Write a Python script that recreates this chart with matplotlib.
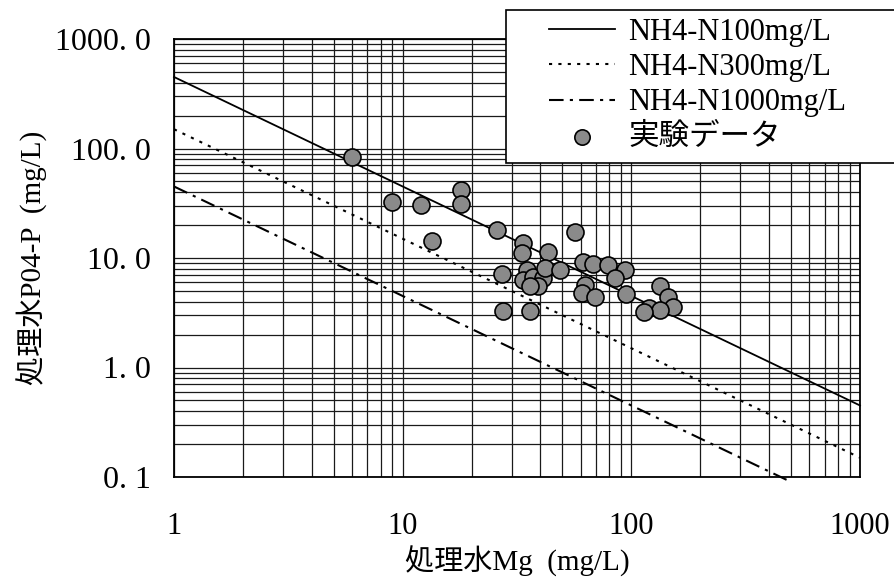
import numpy as np
import matplotlib
matplotlib.use("Agg")
import matplotlib.pyplot as plt
from matplotlib.patches import Rectangle
from matplotlib.ticker import FixedLocator, LogLocator, NullFormatter

plt.rcParams['font.family'] = ['Liberation Serif', 'Noto Sans CJK JP', 'DejaVu Sans']

# ---------------- data ----------------
mg = [6.0, 9.0, 12.0, 18.0, 18.0, 13.5, 25.8, 27.3, 27.5, 33.5, 33.2, 43.3,
      34.8, 33.7, 37.3, 41.2, 41.9, 39.0, 36.0, 36.2, 48.7, 56.6,
      61.6, 68.2, 79.3, 93.7, 84.8, 62.7, 60.6, 69.3, 94.3,
      133, 145, 152, 119, 133, 114]
po4 = [84, 32.7, 30.3, 41.8, 31.1, 14.4, 18.0, 7.1, 3.3, 13.6, 11.2, 11.4,
       7.8, 6.3, 6.75, 6.5, 8.1, 5.6, 5.5, 3.3, 7.8, 17.4,
       9.25, 8.9, 8.6, 7.8, 6.5, 5.7, 4.8, 4.4, 4.7,
       5.5, 4.4, 3.6, 3.5, 3.35, 3.2]

# theoretical lines (end points)
line100_x = [1, 1000]
line100_y = [450, 0.45]
line300_x = [1, 1000]
line300_y = [150, 0.15]
line1000_x = [1, 500]
line1000_y = [45, 0.09]

labels = ["NH4-N100mg/L", "NH4-N300mg/L", "NH4-N1000mg/L", "実験データ"]
xticks = [1, 10, 100, 1000]
xtick_labels = ["1", "10", "100", "1000"]
yticks = [0.1, 1, 10, 100, 1000]
ytick_labels = ["0. 1", "1. 0", "10. 0", "100. 0", "1000. 0"]

# ---------------- figure ----------------
fig = plt.figure(figsize=(8.95, 5.88), dpi=100)
ax = fig.add_axes([174/895, 1 - 477/588, (860 - 174)/895, (477 - 39)/588])
ax.set_xscale('log')
ax.set_yscale('log')
ax.set_xlim(1, 1000)
ax.set_ylim(0.1, 1000)

l1, = ax.plot(line100_x, line100_y, color='black', lw=1.3, clip_on=False)
l2, = ax.plot(line300_x, line300_y, color='black', lw=1.5,
              linestyle=(0, (1.5, 3)), clip_on=False)
l3, = ax.plot(line1000_x, line1000_y, color='black', lw=1.5,
              linestyle=(0, (7, 3, 1.5, 3)), clip_on=False)
sc = ax.scatter(mg, po4, s=150, facecolor='#8a8a8a', edgecolor='black',
                linewidth=1.2, zorder=3)

# grid
ax.xaxis.set_minor_locator(LogLocator(base=10, subs=np.arange(2, 10)))
ax.yaxis.set_minor_locator(LogLocator(base=10, subs=np.arange(2, 10)))
ax.xaxis.set_minor_formatter(NullFormatter())
ax.yaxis.set_minor_formatter(NullFormatter())
ax.grid(True, which='both', color='#1a1a1a', lw=0.9)
ax.set_axisbelow(True)
for s in ax.spines.values():
    s.set_linewidth(1.3)

ax.xaxis.set_major_locator(FixedLocator(xticks))
ax.set_xticklabels(xtick_labels)
ax.yaxis.set_major_locator(FixedLocator(yticks))
ax.set_yticklabels(ytick_labels)
ax.tick_params(which='both', length=0)
ax.tick_params(axis='x', labelsize=22, pad=25)
ax.tick_params(axis='y', labelsize=23, pad=17)

ax.set_xlabel("処理水Mg  (mg/L)", fontsize=21, labelpad=4)
ax.set_ylabel("処理水P04-P  (mg/L)", fontsize=21, labelpad=5)

# legend with a box running off the right edge
fig.patches.append(Rectangle((506/895, 1 - 163/588), 0.5, 153/588,
                             transform=fig.transFigure, facecolor='white',
                             edgecolor='black', lw=1.2, zorder=4))
leg = fig.legend([l1, l2, l3, sc], labels, loc='upper left',
                 bbox_to_anchor=(549/895, 1 - 18/588), frameon=False,
                 fontsize=22, handlelength=2.15, handletextpad=0.45,
                 labelspacing=0.2, borderpad=0.0, borderaxespad=0,
                 markerscale=0.9)
leg.set_zorder(5)

fig.savefig("out.png", dpi=100)
